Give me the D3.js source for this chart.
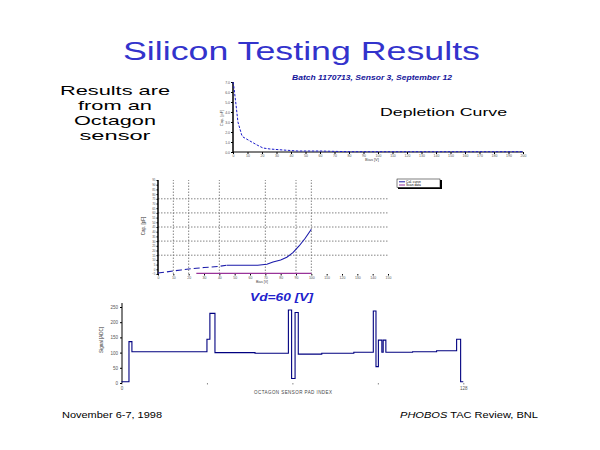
<!DOCTYPE html>
<html>
<head>
<meta charset="utf-8">
<script src="https://cdn.jsdelivr.net/npm/d3@7"></script>
<style>
  body { margin: 0; background: #fff; }
  svg { display: block; }
  text { font-family: "Liberation Sans", Arial, sans-serif; }
</style>
</head>
<body>
<div id="slide"></div>
<script>
// ---- data ----
// depletion curve (top plot): bias voltage vs capacitance-ish reading
const depV = [0, 0.7, 2.1, 3.4, 6, 6.9, 11.7, 16.6, 20.7, 25.5, 34.5, 44.8, 60, 80, 120, 160, 200];
const depC = [7.0, 6.4, 4.7, 3.0, 1.7, 1.5, 1.1, 0.7, 0.4, 0.3, 0.2, 0.1, 0.1, 0.03, 0.03, 0.03, 0.03];
const depTicksX = [0, 10, 20, 30, 40, 50, 60, 70, 80, 90, 100, 110, 120, 130, 140, 150, 160, 170, 180, 190, 200];
const depTicksY = [0, 1, 2, 3, 4, 5, 6, 7];

// middle plot: two series
const calV = [0, 5, 10, 15, 20, 25, 30, 35, 40, 45, 55, 65, 71, 75, 80, 84, 88, 92, 96, 100];
const calC = [-3.9, -2.9, -1.8, -0.7, 0.3, 1.1, 1.9, 2.4, 3.2, 4.3, 4.3, 4.3, 5.3, 7.8, 9.9, 12.8, 17.7, 24.8, 33, 42.6];
const scanV = [25, 100];
const scanC = [-4.3, -4.3];
const midTicksX = [0, 10, 20, 30, 40, 50, 60, 70, 80, 90, 100, 110, 120, 130, 140, 150];
const midTicksY = [-5, 0, 5, 10, 15, 20, 25, 30, 35, 40, 45, 50, 55, 60, 65, 70, 75, 80, 85, 90, 95];
const midGridX = [10, 20, 40, 70, 90, 100];
const midGridY = [15, 30, 45, 60, 75];
const midLegend = ['Cal. curve', 'Scan data'];

// bottom plot: per-pad readout (step trace)
const padCh  = [0, 2.8, 3.9, 32, 33.1, 35, 50, 62.5, 63.7, 65, 66.2, 75, 87, 94.3, 95.3, 96.2, 97.5, 98, 99, 109, 118, 125.5, 127, 128];
const padVal = [4, 136, 103, 144, 229, 100, 98, 240, 15, 232, 95, 98, 101, 237, 54, 141, 101, 141, 101, 103, 106, 144, 4, 4];
const padTicksX = [0, 32, 64, 96, 128];
const padTicksY = [0, 50, 100, 150, 200, 250];

const leftLines = ['Results are', 'from an', 'Octagon', 'sensor'];
const leftWidths = [110, 74, 82, 71];

const svg = d3.select('#slide')
  .append('svg')
  .attr('width', 600)
  .attr('height', 450);

svg.append('rect').attr('width', 600).attr('height', 450).attr('fill', '#fff');

// ---- slide texts (glyphs stretched like the old slide font) ----
svg.append('text')
  .attr('x', 301.5).attr('y', 60)
  .attr('text-anchor', 'middle')
  .attr('font-size', 25)
  .attr('textLength', 357).attr('lengthAdjust', 'spacingAndGlyphs')
  .attr('fill', '#3333cc')
  .text('Silicon Testing Results');

svg.selectAll('.left-text')
  .data(leftLines)
  .enter()
  .append('text')
  .attr('class', 'left-text')
  .attr('x', 115)
  .attr('y', (d, i) => 95 + i * 15)
  .attr('text-anchor', 'middle')
  .attr('font-size', 13.5)
  .attr('textLength', (d, i) => leftWidths[i]).attr('lengthAdjust', 'spacingAndGlyphs')
  .attr('fill', '#000')
  .text(d => d);

svg.append('text')
  .attr('x', 380).attr('y', 116)
  .attr('font-size', 11.5)
  .attr('textLength', 127).attr('lengthAdjust', 'spacingAndGlyphs')
  .text('Depletion Curve');

svg.append('text')
  .attr('x', 372).attr('y', 80)
  .attr('text-anchor', 'middle')
  .attr('font-size', 7.5)
  .attr('font-weight', 'bold')
  .attr('font-style', 'italic')
  .attr('font-family', '"Liberation Serif", serif')
  .attr('textLength', 160).attr('lengthAdjust', 'spacingAndGlyphs')
  .attr('fill', '#14149a')
  .text('Batch 1170713, Sensor 3, September 12');

svg.append('text')
  .attr('x', 281.5).attr('y', 301)
  .attr('text-anchor', 'middle')
  .attr('font-size', 10.5)
  .attr('font-weight', 'bold')
  .attr('font-style', 'italic')
  .attr('textLength', 63).attr('lengthAdjust', 'spacingAndGlyphs')
  .attr('fill', '#2222cc')
  .text('Vd=60 [V]');

svg.append('text')
  .attr('x', 62).attr('y', 418)
  .attr('font-size', 8.5)
  .attr('textLength', 100).attr('lengthAdjust', 'spacingAndGlyphs')
  .text('November 6-7, 1998');

const foot = svg.append('text')
  .attr('x', 400).attr('y', 418)
  .attr('font-size', 8.5)
  .attr('textLength', 138).attr('lengthAdjust', 'spacingAndGlyphs');
foot.append('tspan').attr('font-style', 'italic').text('PHOBOS');
foot.append('tspan').text(' TAC Review, BNL');

// small helper to style tiny axis text
function tinyAxis(g, size) {
  g.attr('font-size', size).attr('font-family', '"Liberation Sans", Arial, sans-serif');
  g.selectAll('text').attr('fill', '#555');
  g.select('.domain').remove();
}

// ---- top plot: depletion curve ----
const x1 = d3.scaleLinear().domain([0, 200]).range([233, 523]);
const y1 = d3.scaleLinear().domain([0, 7]).range([152, 82]);

svg.append('g')
  .attr('transform', 'translate(0,152)')
  .call(d3.axisBottom(x1).tickValues(depTicksX).tickSize(2).tickPadding(1).tickFormat(d3.format('d')))
  .call(g => tinyAxis(g, 3.5));
svg.append('g')
  .attr('transform', 'translate(233,0)')
  .call(d3.axisLeft(y1).tickValues(depTicksY).tickSize(2).tickPadding(1))
  .call(g => tinyAxis(g, 3.5));

svg.append('line')
  .attr('x1', x1(0)).attr('x2', x1(200)).attr('y1', y1(0)).attr('y2', y1(0))
  .attr('stroke', '#000').attr('stroke-width', 1);
svg.append('line')
  .attr('x1', x1(0)).attr('x2', x1(0)).attr('y1', y1(0)).attr('y2', y1(7))
  .attr('stroke', '#000').attr('stroke-width', 1.5);

const depPts = depV.map((v, i) => [v, depC[i]]);
svg.append('path')
  .datum(depPts)
  .attr('fill', 'none')
  .attr('stroke', '#1a1acc')
  .attr('stroke-width', 1)
  .attr('stroke-dasharray', '2.5,1.5')
  .attr('d', d3.line().x(d => x1(d[0])).y(d => y1(d[1])));

svg.append('text')
  .attr('transform', 'translate(223,118) rotate(-90)')
  .attr('text-anchor', 'middle').attr('font-size', 4).attr('fill', '#444')
  .text('Cap. [pF]');
svg.append('text')
  .attr('x', 372).attr('y', 161)
  .attr('text-anchor', 'middle').attr('font-size', 4).attr('fill', '#444')
  .text('Bias [V]');

// ---- middle plot ----
const x2 = d3.scaleLinear().domain([0, 150]).range([158, 388]);
const y2 = d3.scaleLinear().domain([-5, 95]).range([274, 180]);

svg.append('g').selectAll('line')
  .data(midGridX)
  .enter()
  .append('line')
  .attr('x1', d => x2(d)).attr('x2', d => x2(d))
  .attr('y1', y2(-5)).attr('y2', y2(95))
  .attr('stroke', '#777').attr('stroke-width', 0.9).attr('stroke-dasharray', '1.5,1.5');
svg.append('g').selectAll('line')
  .data(midGridY)
  .enter()
  .append('line')
  .attr('x1', x2(0)).attr('x2', x2(150))
  .attr('y1', d => y2(d)).attr('y2', d => y2(d))
  .attr('stroke', '#777').attr('stroke-width', 0.9).attr('stroke-dasharray', '1.5,1.5');

svg.append('g')
  .attr('transform', 'translate(0,274)')
  .call(d3.axisBottom(x2).tickValues(midTicksX).tickSize(1.5).tickPadding(1))
  .call(g => tinyAxis(g, 3.5));
svg.append('g')
  .attr('transform', 'translate(158,0)')
  .call(d3.axisLeft(y2).tickValues(midTicksY).tickSize(1.5).tickPadding(1))
  .call(g => tinyAxis(g, 3));

svg.append('line')
  .attr('x1', x2(0)).attr('x2', x2(0)).attr('y1', y2(-5)).attr('y2', y2(95))
  .attr('stroke', '#000').attr('stroke-width', 1.5);

const line2 = d3.line().x(d => x2(d[0])).y(d => y2(d[1]));
const calPts = calV.map((v, i) => [v, calC[i]]);
svg.append('path')
  .datum(calPts.filter(d => d[0] <= 45))
  .attr('fill', 'none').attr('stroke', '#1a1aaa').attr('stroke-width', 1.1)
  .attr('stroke-dasharray', '6,3')
  .attr('d', line2);
svg.append('path')
  .datum(calPts.filter(d => d[0] >= 45))
  .attr('fill', 'none').attr('stroke', '#1a1aaa').attr('stroke-width', 1.1)
  .attr('d', line2);
svg.append('path')
  .datum(scanV.map((v, i) => [v, scanC[i]]))
  .attr('fill', 'none').attr('stroke', '#993399').attr('stroke-width', 1.1)
  .attr('d', line2);

svg.append('text')
  .attr('transform', 'translate(145,226) rotate(-90)')
  .attr('text-anchor', 'middle').attr('font-size', 4.5).attr('fill', '#333')
  .text('Cap. [pF]');
svg.append('text')
  .attr('x', 262).attr('y', 283)
  .attr('text-anchor', 'middle').attr('font-size', 3.5).attr('fill', '#444')
  .text('Bias [V]');

// legend
const leg = svg.append('g').attr('transform', 'translate(397,179)');
leg.append('rect').attr('x', 1).attr('y', 1).attr('width', 44).attr('height', 9).attr('fill', '#000');
leg.append('rect').attr('width', 43).attr('height', 8.5).attr('fill', '#fff').attr('stroke', '#000').attr('stroke-width', 0.5);
const legColors = ['#1a1aaa', '#993399'];
leg.selectAll('.leg-item')
  .data(midLegend)
  .enter()
  .append('g')
  .attr('class', 'leg-item')
  .attr('transform', (d, i) => `translate(2,${2.8 + i * 3.2})`)
  .each(function(d, i) {
    const g = d3.select(this);
    g.append('line').attr('x1', 0).attr('x2', 6).attr('stroke', legColors[i]).attr('stroke-width', 1);
    g.append('text').attr('x', 7).attr('y', 1.2).attr('font-size', 3.3).attr('fill', '#000').text(d);
  });

// ---- bottom plot ----
const x3 = d3.scaleLinear().domain([0, 128]).range([121.5, 463.3]);
const y3 = d3.scaleLinear().domain([0, 250]).range([383, 307]);

svg.append('g')
  .attr('transform', 'translate(0,383)')
  .call(d3.axisBottom(x3).tickValues(padTicksX).tickSize(1.5).tickPadding(2)
    .tickFormat(d => (d === 0 || d === 128) ? d : ''))
  .call(g => tinyAxis(g, 4.5))
  .call(g => g.selectAll('.tick line').attr('stroke', '#888'));
svg.append('g')
  .attr('transform', 'translate(122,0)')
  .call(d3.axisLeft(y3).tickValues(padTicksY).tickSize(2).tickPadding(2))
  .call(g => tinyAxis(g, 4.5));

svg.append('line')
  .attr('x1', 122).attr('x2', 122).attr('y1', 303).attr('y2', 383)
  .attr('stroke', '#000').attr('stroke-width', 1);

svg.append('path')
  .datum(padCh.map((c, i) => [c, padVal[i]]))
  .attr('fill', 'none')
  .attr('stroke', '#000080')
  .attr('stroke-width', 1.1)
  .attr('d', d3.line().curve(d3.curveStepAfter).x(d => x3(d[0])).y(d => y3(d[1])));

svg.append('text')
  .attr('transform', 'translate(103,340) rotate(-90)')
  .attr('text-anchor', 'middle').attr('font-size', 4.5).attr('fill', '#333')
  .text('Signal [ADC]');
svg.append('text')
  .attr('x', 293).attr('y', 394)
  .attr('text-anchor', 'middle').attr('font-size', 4.5)
  .attr('textLength', 78).attr('lengthAdjust', 'spacing')
  .attr('fill', '#444')
  .text('OCTAGON SENSOR PAD INDEX');
</script>
</body>
</html>
